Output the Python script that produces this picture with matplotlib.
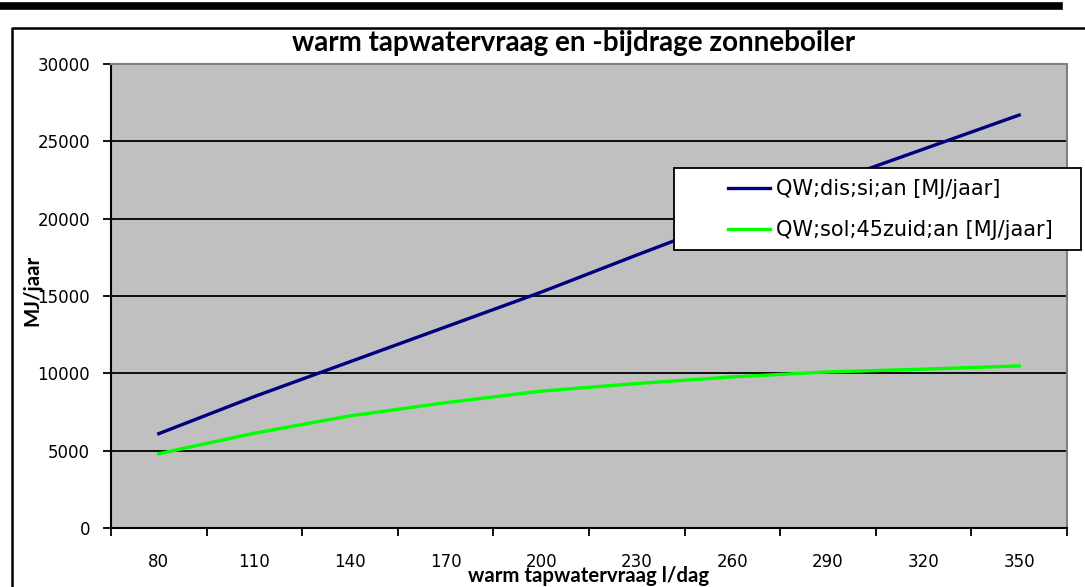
import matplotlib.pyplot as plt
from matplotlib.lines import Line2D
from matplotlib.patches import Rectangle

# warm tapwatervraag (l/dag) and the two MJ/jaar series
categories = ['80', '110', '140', '170', '200', '230', '260', '290', '320', '350']
q_dis = [6100, 8500, 10750, 13000, 15250, 17650, 20000, 22300, 24500, 26700]
q_sol = [4800, 6130, 7250, 8100, 8850, 9340, 9770, 10090, 10270, 10480]

W, H = 1085, 587
fig = plt.figure(figsize=(W / 100, H / 100), dpi=100)
ax = fig.add_axes([111 / W, 1 - 528 / H, (1067 - 111) / W, (528 - 64) / H])

x = list(range(len(categories)))
ax.set_facecolor('#c0c0c0')
ax.plot(x, q_dis, color='#000080', lw=2.4, label='QW;dis;si;an [MJ/jaar]', zorder=3)
ax.plot(x, q_sol, color='#00ff00', lw=2.4, label='QW;sol;45zuid;an [MJ/jaar]', zorder=3)

ax.set_xlim(-0.5, len(categories) - 0.5)
ax.set_ylim(0, 30000)
ax.set_yticks(range(0, 30001, 5000))
ax.yaxis.grid(True, color='black', lw=1.3)
ax.set_axisbelow(True)

# category boundaries get the tick marks, labels sit in the middle
ax.set_xticks([i - 0.5 for i in range(len(categories) + 1)])
ax.set_xticklabels([])
ax.set_xticks(x, minor=True)
ax.set_xticklabels(categories, minor=True)
ax.tick_params(axis='x', which='major', length=6, width=1.3, direction='out')
ax.tick_params(axis='x', which='minor', length=0, pad=18, labelsize=12)
ax.tick_params(axis='y', length=6, width=1.3, labelsize=12, pad=9)

for s in ['left', 'bottom']:
    ax.spines[s].set_linewidth(1.5)
for s in ['top', 'right']:
    ax.spines[s].set_color('#808080')
    ax.spines[s].set_linewidth(1.5)

fig.text(574 / W, 1 - 43 / H, 'warm tapwatervraag en -bijdrage zonneboiler',
         ha='center', va='center', fontsize=20, fontweight='bold', family='Lato')
fig.text(589 / W, 1 - 576 / H, 'warm tapwatervraag l/dag',
         ha='center', va='center', fontsize=14.7, fontweight='bold', family='Lato')
fig.text(32 / W, 1 - 290 / H, 'MJ/jaar', rotation=90,
         ha='center', va='center', fontsize=14.7, fontweight='bold', family='Lato')

# legend frame drawn separately so the entries can sit indented as in the original
ax.add_patch(Rectangle((674 / W, 1 - 250 / H), (1081 - 674) / W, (250 - 168) / H,
                       transform=fig.transFigure, clip_on=False, facecolor='white',
                       edgecolor='black', lw=1.3, zorder=4))
leg = ax.legend(loc='center left', bbox_to_anchor=(728 / W, 1 - 209.5 / H),
                bbox_transform=fig.transFigure, frameon=False, fontsize=15,
                handlelength=2.0, handletextpad=0.3, labelspacing=1.0,
                borderpad=0, borderaxespad=0)
leg.set_zorder(5)

# page decoration: thick rule and chart border
fig.add_artist(Line2D([0, 1059 / W], [1 - 6 / H, 1 - 6 / H], color='black', lw=5.5, transform=fig.transFigure))
fig.add_artist(Line2D([12 / W, 12 / W, 1], [0, 1 - 28 / H, 1 - 28 / H], color='black', lw=1.8, transform=fig.transFigure))

fig.savefig('out.png', dpi=100)
